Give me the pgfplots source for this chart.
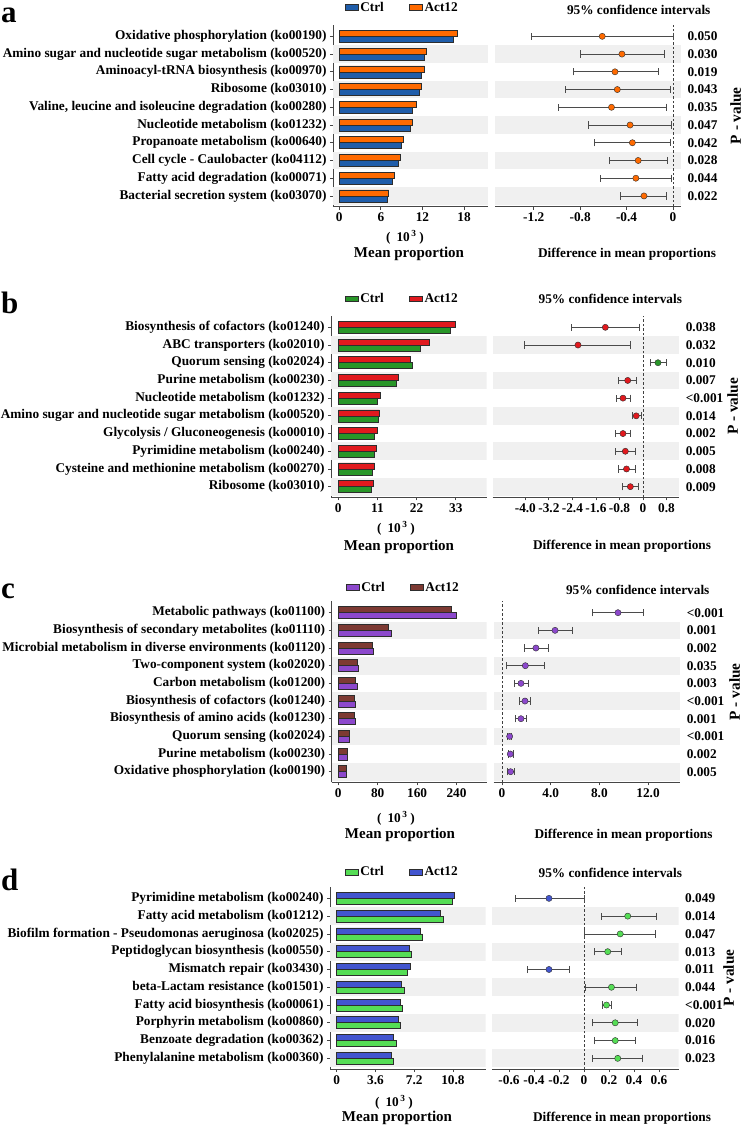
\documentclass[border=0pt]{standalone}
\usepackage{fontspec}
\setmainfont{Liberation Serif}
\usepackage{pgfplots}
\usepackage{pgfplotstable}
\pgfplotsset{compat=1.18}

\definecolor{bandgray}{RGB}{240,240,240}
\definecolor{axgray}{RGB}{70,70,70}
\definecolor{errgray}{RGB}{75,75,75}
\definecolor{edge}{RGB}{45,45,45}
\definecolor{aCtrl}{RGB}{31,93,170}
\definecolor{aAct}{RGB}{255,106,0}
\definecolor{bCtrl}{RGB}{40,150,40}
\definecolor{bAct}{RGB}{225,25,30}
\definecolor{cCtrl}{RGB}{140,72,204}
\definecolor{cAct}{RGB}{125,58,51}
\definecolor{dCtrl}{RGB}{85,221,85}
\definecolor{dAct}{RGB}{66,85,207}

\newcommand\lbl{\fontsize{13.3}{15}\selectfont\bfseries}
\newcommand\mlbl{\fontsize{15}{17}\selectfont\bfseries}
\newcommand\plbl{\fontsize{15.3}{17}\selectfont\bfseries}
\newcommand\panelfont{\fontsize{31}{33}\selectfont\bfseries}
\newcommand\tenthree{(\hspace{6pt}10\hspace{1.5pt}\textsuperscript{3}\hspace{3pt})}

% row = position from the top; ctrl/act = mean proportion (x 10^3);
% diff, lo, hi = difference in mean proportions with its 95% CI;
% grp = group with the larger mean (c = Ctrl, a = Act12)
\pgfplotstableread{
row ctrl act diff lo hi grp
1 16.5 17.1 -0.61 -1.22 0.00 a
2 12.2 12.6 -0.44 -0.80 -0.07 a
3 11.8 12.3 -0.50 -0.86 -0.13 a
4 11.5 11.9 -0.48 -0.93 -0.02 a
5 10.6 11.1 -0.53 -0.99 -0.06 a
6 10.3 10.6 -0.37 -0.73 -0.01 a
7 8.9 9.3 -0.35 -0.68 -0.02 a
8 8.5 8.8 -0.30 -0.55 -0.05 a
9 7.6 7.9 -0.32 -0.63 -0.01 a
10 6.9 7.1 -0.25 -0.45 -0.06 a
}\tabA
\pgfplotstableread{
row ctrl act diff lo hi grp
1 31.5 32.9 -1.28 -2.45 -0.11 a
2 23.1 25.6 -2.21 -4.02 -0.42 a
3 20.8 20.3 0.51 0.25 0.81 c
4 16.4 16.9 -0.52 -0.83 -0.23 a
5 10.9 11.7 -0.68 -0.91 -0.44 a
6 11.1 11.5 -0.23 -0.37 -0.06 a
7 10.0 10.9 -0.68 -0.94 -0.42 a
8 10.0 10.8 -0.60 -0.94 -0.26 a
9 9.5 10.1 -0.56 -0.85 -0.26 a
10 9.4 9.8 -0.43 -0.69 -0.15 a
}\tabB
\pgfplotstableread{
row ctrl act diff lo hi grp
1 240 230 9.53 7.45 11.64 c
2 106.8 102 4.36 2.96 5.78 c
3 71.7 69 2.79 1.81 3.83 c
4 41.2 37.9 1.92 0.33 3.48 c
5 37.9 35.2 1.56 0.99 2.16 c
6 35.2 33.1 1.89 1.42 2.36 c
7 33.8 31.8 1.56 1.12 2.03 c
8 22.3 21.6 0.63 0.47 0.80 c
9 18.9 17.6 0.68 0.49 0.90 c
10 16.9 16.9 0.71 0.47 0.99 c
}\tabC
\pgfplotstableread{
row ctrl act diff lo hi grp
1 10.70 10.92 -0.28 -0.55 0.00 a
2 9.94 9.65 0.35 0.14 0.58 c
3 7.99 7.74 0.29 0.005 0.57 c
4 6.93 6.74 0.19 0.08 0.30 c
5 6.59 6.83 -0.28 -0.45 -0.12 a
6 6.25 6.04 0.22 0.01 0.42 c
7 6.07 5.95 0.18 0.15 0.22 c
8 5.89 5.70 0.25 0.07 0.43 c
9 5.50 5.29 0.25 0.08 0.41 c
10 5.29 5.07 0.27 0.07 0.47 c
}\tabD

% light stripes behind every second row (rows 2,4,...,10 sit at y = 9,7,...,1)
\newcommand\bands[2]{%
  \addplot[draw=none, fill=bandgray, forget plot] coordinates {(#1,0.5) (#2,0.5) (#2,1.5) (#1,1.5)};
  \addplot[draw=none, fill=bandgray, forget plot] coordinates {(#1,2.5) (#2,2.5) (#2,3.5) (#1,3.5)};
  \addplot[draw=none, fill=bandgray, forget plot] coordinates {(#1,4.5) (#2,4.5) (#2,5.5) (#1,5.5)};
  \addplot[draw=none, fill=bandgray, forget plot] coordinates {(#1,6.5) (#2,6.5) (#2,7.5) (#1,7.5)};
  \addplot[draw=none, fill=bandgray, forget plot] coordinates {(#1,8.5) (#2,8.5) (#2,9.5) (#1,9.5)};
}

\pgfplotsset{
  panel/.style={scale only axis, anchor=south west,
    ymin=0.4, ymax=10.65, ytick={1,...,10},
    axis line style={-, draw=axgray, line width=0.9pt},
    tick align=outside, major tick length=3pt,
    tick style={draw=axgray, line width=0.8pt},
    ticklabel style={font=\lbl, text=black}},
  barpanel/.style={panel, axis x line*=bottom, axis y line*=left,
    legend columns=2,
    legend style={draw=none, fill=none, anchor=west, font=\lbl, inner sep=0pt,
      nodes={inner sep=1.5pt},
      /tikz/every even column/.append style={column sep=24pt}},
    legend image code/.code={\draw[#1] (0pt,-2.75pt) rectangle (13pt,2.75pt);}},
  cipanel/.style={panel, axis x line*=bottom, axis y line*=right,
    y axis line style={draw=none}, ytick style={draw=none},
    yticklabel style={anchor=west}},
  ctrlbar/.style={xbar, bar width=6pt, bar shift=-3pt, draw=edge, line width=0.6pt},
  actbar/.style={xbar, bar width=6pt, bar shift=3pt, draw=edge, line width=0.6pt},
  zeroline/.style={draw=black!75, line width=0.8pt, dash pattern=on 2.5pt off 2pt, forget plot},
  ci/.style={only marks, scatter, point meta=explicit symbolic, mark=*, mark size=3.1pt,
    error bars/x dir=both, error bars/x explicit, error bars/error mark=|,
    error bars/error bar style={draw=errgray, line width=0.8pt},
    error bars/error mark options={draw=errgray, line width=0.8pt, mark size=3.6pt}},
}

\begin{document}
\begin{tikzpicture}
\path[use as bounding box] (0pt,0pt) rectangle (744pt,-1127pt);

% ---------------- panel a ----------------
\begin{axis}[barpanel, at={(333pt,-206.6pt)}, width=155pt, height=181.8pt,
  xmin=-0.91, xmax=21.46, xtick={0,6,12,18}, xticklabels={0,6,12,18},
  yticklabels={Bacterial secretion system (ko03070), Fatty acid degradation (ko00071),
    Cell cycle - Caulobacter (ko04112), Propanoate metabolism (ko00640),
    Nucleotide metabolism (ko01232), {Valine, leucine and isoleucine degradation (ko00280)},
    Ribosome (ko03010), Aminoacyl-tRNA biosynthesis (ko00970),
    Amino sugar and nucleotide sugar metabolism (ko00520), Oxidative phosphorylation (ko00190)},
  legend style={at={(axis description cs:0.0774,1.0952)}}]
\bands{-0.91}{21.46}
\addplot[ctrlbar, fill=aCtrl] table[x=ctrl, y expr=11-\thisrow{row}] {\tabA};
\addplot[actbar, fill=aAct] table[x=act, y expr=11-\thisrow{row}] {\tabA};
\legend{Ctrl, Act12}
\end{axis}
\begin{axis}[cipanel, at={(495pt,-206.6pt)}, width=186pt, height=181.8pt,
  xmin=-1.534, xmax=0.069, xtick={-1.2,-0.8,-0.4,0}, xticklabels={-1.2,-0.8,-0.4,0},
  yticklabels={0.022,0.044,0.028,0.042,0.047,0.035,0.043,0.019,0.030,0.050}]
\bands{-1.534}{0.069}
\addplot[zeroline] coordinates {(0,0.4) (0,10.65)};
\addplot[ci, scatter/classes={a={fill=aAct, draw=edge}, c={fill=aCtrl, draw=edge}}]
  table[x=diff, y expr=11-\thisrow{row}, meta=grp,
    x error plus expr=\thisrow{hi}-\thisrow{diff},
    x error minus expr=\thisrow{diff}-\thisrow{lo}] {\tabA};
\end{axis}

% ---------------- panel b ----------------
\begin{axis}[barpanel, at={(331pt,-497.3pt)}, width=155.7pt, height=181.5pt,
  xmin=-2.05, xmax=41.67, xtick={0,11,22,33}, xticklabels={0,11,22,33},
  yticklabels={Ribosome (ko03010), Cysteine and methionine metabolism (ko00270),
    Pyrimidine metabolism (ko00240), Glycolysis / Gluconeogenesis (ko00010),
    Amino sugar and nucleotide sugar metabolism (ko00520), Nucleotide metabolism (ko01232),
    Purine metabolism (ko00230), Quorum sensing (ko02024),
    ABC transporters (ko02010), Biosynthesis of cofactors (ko01240)},
  legend style={at={(axis description cs:0.0899,1.0926)}}]
\bands{-2.05}{41.67}
\addplot[ctrlbar, fill=bCtrl] table[x=ctrl, y expr=11-\thisrow{row}] {\tabB};
\addplot[actbar, fill=bAct] table[x=act, y expr=11-\thisrow{row}] {\tabB};
\legend{Ctrl, Act12}
\end{axis}
\begin{axis}[cipanel, at={(492.7pt,-497.3pt)}, width=186.6pt, height=181.5pt,
  xmin=-5.11, xmax=1.235, xtick={-4,-3.2,-2.4,-1.6,-0.8,0,0.8},
  xticklabels={-4.0,-3.2,-2.4,-1.6,-0.8,0,0.8},
  yticklabels={0.009,0.008,0.005,0.002,0.014,<0.001,0.007,0.010,0.032,0.038}]
\bands{-5.11}{1.235}
\addplot[zeroline] coordinates {(0,0.4) (0,10.65)};
\addplot[ci, scatter/classes={a={fill=bAct, draw=edge}, c={fill=bCtrl, draw=edge}}]
  table[x=diff, y expr=11-\thisrow{row}, meta=grp,
    x error plus expr=\thisrow{hi}-\thisrow{diff},
    x error minus expr=\thisrow{diff}-\thisrow{lo}] {\tabB};
\end{axis}

% ---------------- panel c ----------------
\begin{axis}[barpanel, at={(331.7pt,-782.3pt)}, width=155pt, height=181.1pt,
  xmin=-13.4, xmax=301.3, xtick={0,80,160,240}, xticklabels={0,80,160,240},
  yticklabels={Oxidative phosphorylation (ko00190), Purine metabolism (ko00230),
    Quorum sensing (ko02024), Biosynthesis of amino acids (ko01230),
    Biosynthesis of cofactors (ko01240), Carbon metabolism (ko01200),
    Two-component system (ko02020), Microbial metabolism in diverse environments (ko01120),
    Biosynthesis of secondary metabolites (ko01110), Metabolic pathways (ko01100)},
  legend style={at={(axis description cs:0.092,1.0756)}}]
\bands{-13.4}{301.3}
\addplot[ctrlbar, fill=cCtrl] table[x=ctrl, y expr=11-\thisrow{row}] {\tabC};
\addplot[actbar, fill=cAct] table[x=act, y expr=11-\thisrow{row}] {\tabC};
\legend{Ctrl, Act12}
\end{axis}
\begin{axis}[cipanel, at={(493.7pt,-782.3pt)}, width=186.6pt, height=181.1pt,
  xmin=-0.68, xmax=14.65, xtick={0,4,8,12}, xticklabels={0,4.0,8.0,12.0},
  yticklabels={0.005,0.002,<0.001,0.001,<0.001,0.003,0.035,0.002,0.001,<0.001}]
\bands{-0.68}{14.65}
\addplot[zeroline] coordinates {(0,0.4) (0,10.65)};
\addplot[ci, scatter/classes={a={fill=cAct, draw=edge}, c={fill=cCtrl, draw=edge}}]
  table[x=diff, y expr=11-\thisrow{row}, meta=grp,
    x error plus expr=\thisrow{hi}-\thisrow{diff},
    x error minus expr=\thisrow{diff}-\thisrow{lo}] {\tabC};
\end{axis}

% ---------------- panel d ----------------
\begin{axis}[barpanel, at={(330pt,-1069pt)}, width=155.7pt, height=182.2pt,
  xmin=-0.622, xmax=13.84, xtick={0,3.6,7.2,10.8}, xticklabels={0,3.6,7.2,10.8},
  yticklabels={Phenylalanine metabolism (ko00360), Benzoate degradation (ko00362),
    Porphyrin metabolism (ko00860), Fatty acid biosynthesis (ko00061),
    beta-Lactam resistance (ko01501), Mismatch repair (ko03430),
    Peptidoglycan biosynthesis (ko00550), Biofilm formation - Pseudomonas aeruginosa (ko02025),
    Fatty acid metabolism (ko01212), Pyrimidine metabolism (ko00240)},
  legend style={at={(axis description cs:0.0963,1.081)}}]
\bands{-0.622}{13.84}
\addplot[ctrlbar, fill=dCtrl] table[x=ctrl, y expr=11-\thisrow{row}] {\tabD};
\addplot[actbar, fill=dAct] table[x=act, y expr=11-\thisrow{row}] {\tabD};
\legend{Ctrl, Act12}
\end{axis}
\begin{axis}[cipanel, at={(492pt,-1069pt)}, width=186.7pt, height=182.2pt,
  xmin=-0.736, xmax=0.758, xtick={-0.6,-0.4,-0.2,0,0.2,0.4,0.6},
  xticklabels={-0.6,-0.4,-0.2,0,0.2,0.4,0.6},
  yticklabels={0.023,0.016,0.020,<0.001,0.044,0.011,0.013,0.047,0.014,0.049}]
\bands{-0.736}{0.758}
\addplot[zeroline] coordinates {(0,0.4) (0,10.65)};
\addplot[ci, scatter/classes={a={fill=dAct, draw=edge}, c={fill=dCtrl, draw=edge}}]
  table[x=diff, y expr=11-\thisrow{row}, meta=grp,
    x error plus expr=\thisrow{hi}-\thisrow{diff},
    x error minus expr=\thisrow{diff}-\thisrow{lo}] {\tabD};
\end{axis}

% ---------------- panel letters and titles ----------------
\begin{scope}[every node/.style={inner sep=0pt}]
\begin{scope}[every node/.append style={font=\panelfont, anchor=base west,
    text height=0.5em, text depth=0pt}]
\node at (1pt,-22.7pt) {a};
\node at (1pt,-313.3pt) {b};
\node at (1pt,-598pt) {c};
\node at (1pt,-890pt) {d};
\end{scope}

\node[font=\lbl] at (638.7pt,-10pt) {95\% confidence intervals};
\node[font=\lbl] at (610.3pt,-299pt) {95\% confidence intervals};
\node[font=\lbl] at (637.7pt,-590pt) {95\% confidence intervals};
\node[font=\lbl] at (610.3pt,-873.3pt) {95\% confidence intervals};

\node[font=\lbl] at (405pt,-237pt) {\tenthree};
\node[font=\lbl] at (396pt,-528pt) {\tenthree};
\node[font=\lbl] at (396pt,-818pt) {\tenthree};
\node[font=\lbl] at (394pt,-1102pt) {\tenthree};

\node[font=\mlbl] at (409pt,-254pt) {Mean proportion};
\node[font=\mlbl] at (399pt,-546.7pt) {Mean proportion};
\node[font=\mlbl] at (400pt,-835pt) {Mean proportion};
\node[font=\mlbl] at (397pt,-1118pt) {Mean proportion};

\node[font=\lbl] at (627pt,-254pt) {Difference in mean proportions};
\node[font=\lbl] at (622pt,-546.7pt) {Difference in mean proportions};
\node[font=\lbl] at (623.5pt,-835pt) {Difference in mean proportions};
\node[font=\lbl] at (622pt,-1118pt) {Difference in mean proportions};

\begin{scope}[every node/.append style={font=\plbl, rotate=90, text height=0.68em, text depth=0pt}]
\node at (737.5pt,-115.7pt) {P - value};
\node at (734.5pt,-406.5pt) {P - value};
\node at (736.5pt,-691.8pt) {P - value};
\node at (730.5pt,-978pt) {P - value};
\end{scope}
\end{scope}
\end{tikzpicture}
\end{document}
